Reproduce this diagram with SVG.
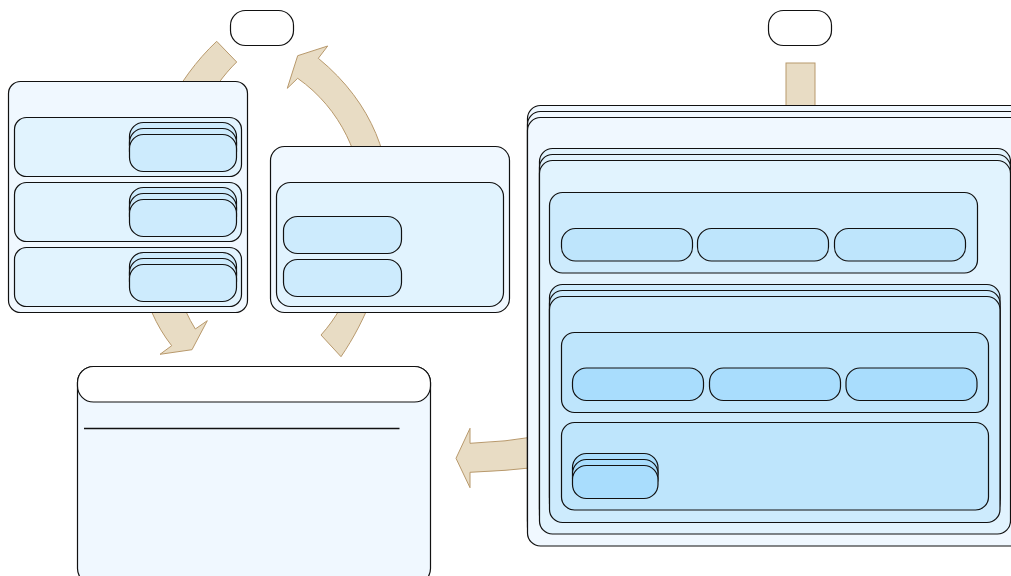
<svg xmlns="http://www.w3.org/2000/svg" width="1011" height="576" viewBox="0 0 1011 576">
<style>
.n{stroke:#111;stroke-width:1.2}
.w{fill:#ffffff}
.l1{fill:#f0f8ff}
.l2{fill:#e1f3fe}
.l3{fill:#cdebfd}
.l4{fill:#bee5fc}
.l5{fill:#a9ddfd}
.arr{fill:#e8dcc4;stroke:#b8996c;stroke-width:1}
</style>
<g id="connectors">
<path class="arr" d="M216.7,41.3 C135,118 108,265 171.7,345.7 L160,354.3 L192,349.7 L207.3,320.7 L195.3,329 C140,240 185,112 236.7,62 Z"/>
<path class="arr" d="M341,356.7 C390,285 430,150 318.3,58.3 L327.7,46 L297.7,55.7 L287.3,88.3 L297.7,78.3 C385,140 380,270 321,335 Z"/>
<path class="arr" d="M540,436 Q505,442 470,443.3 L470,428.3 L456,458.3 L470,487.7 L470,472.3 Q505,471 540,467 Z"/>
<rect class="arr" x="786" y="63" width="29" height="60"/>
</g>
<g id="start-left"><rect class="n w" x="230.5" y="10.5" width="63" height="35" rx="15"/></g>
<g id="start-right"><rect class="n w" x="768.5" y="10.5" width="63" height="35" rx="15"/></g>
<g id="panel-a">
<rect class="n l1" x="8.5" y="81.5" width="239" height="231" rx="12"/>
<rect class="n l2" x="14.5" y="117.5" width="227" height="59" rx="12"/>
<rect class="n l2" x="14.5" y="182.5" width="227" height="59" rx="12"/>
<rect class="n l2" x="14.5" y="247.5" width="227" height="59" rx="12"/>
<rect class="n l3" x="129.5" y="122.5" width="107" height="37" rx="14"/>
<rect class="n l3" x="129.5" y="128.5" width="107" height="37" rx="14"/>
<rect class="n l3" x="129.5" y="134.5" width="107" height="37" rx="14"/>
<rect class="n l3" x="129.5" y="187.5" width="107" height="37" rx="14"/>
<rect class="n l3" x="129.5" y="193.5" width="107" height="37" rx="14"/>
<rect class="n l3" x="129.5" y="199.5" width="107" height="37" rx="14"/>
<rect class="n l3" x="129.5" y="252.5" width="107" height="37" rx="14"/>
<rect class="n l3" x="129.5" y="258.5" width="107" height="37" rx="14"/>
<rect class="n l3" x="129.5" y="264.5" width="107" height="37" rx="14"/>
</g>
<g id="panel-b">
<rect class="n l1" x="270.5" y="146.5" width="239" height="166" rx="14"/>
<rect class="n l2" x="276.5" y="182.5" width="227" height="124" rx="14"/>
<rect class="n l3" x="283.5" y="216.5" width="118" height="37" rx="14"/>
<rect class="n l3" x="283.5" y="259.5" width="118" height="37" rx="14"/>
</g>
<g id="panel-c">
<rect class="n l1" x="77.5" y="366.5" width="353" height="218" rx="16"/>
<rect class="n w" x="77.5" y="366.5" width="353" height="35.5" rx="16"/>
<line x1="84" y1="428.5" x2="399.5" y2="428.5" stroke="#111" stroke-width="1.3"/>
</g>
<g id="panel-d">
<rect class="n l1" x="527.5" y="105.5" width="520" height="428.5" rx="13"/>
<rect class="n l1" x="527.5" y="111.5" width="520" height="428.5" rx="13"/>
<rect class="n l1" x="527.5" y="117.5" width="520" height="428.5" rx="13"/>
<rect class="n l2" x="539.5" y="148.5" width="471" height="373.5" rx="13"/>
<rect class="n l2" x="539.5" y="154.5" width="471" height="373.5" rx="13"/>
<rect class="n l2" x="539.5" y="160.5" width="471" height="373.5" rx="13"/>
<rect class="n l3" x="549.5" y="192.5" width="428" height="80.5" rx="13"/>
<rect class="n l4" x="561.5" y="228.5" width="131" height="32.5" rx="14"/>
<rect class="n l4" x="697.5" y="228.5" width="131" height="32.5" rx="14"/>
<rect class="n l4" x="834.5" y="228.5" width="131" height="32.5" rx="14"/>
<rect class="n l3" x="549.5" y="284.5" width="450.5" height="226" rx="13"/>
<rect class="n l3" x="549.5" y="290.5" width="450.5" height="226" rx="13"/>
<rect class="n l3" x="549.5" y="296.5" width="450.5" height="226" rx="13"/>
<rect class="n l4" x="561.5" y="332.5" width="427" height="80" rx="13"/>
<rect class="n l5" x="572.5" y="368" width="131" height="32.5" rx="14"/>
<rect class="n l5" x="709.5" y="368" width="131" height="32.5" rx="14"/>
<rect class="n l5" x="846" y="368" width="131" height="32.5" rx="14"/>
<rect class="n l4" x="561.5" y="422.5" width="427" height="87.5" rx="13"/>
<rect class="n l5" x="572.5" y="453.5" width="85.5" height="33" rx="14"/>
<rect class="n l5" x="572.5" y="459.5" width="85.5" height="33" rx="14"/>
<rect class="n l5" x="572.5" y="465.5" width="85.5" height="33" rx="14"/>
</g>
</svg>
